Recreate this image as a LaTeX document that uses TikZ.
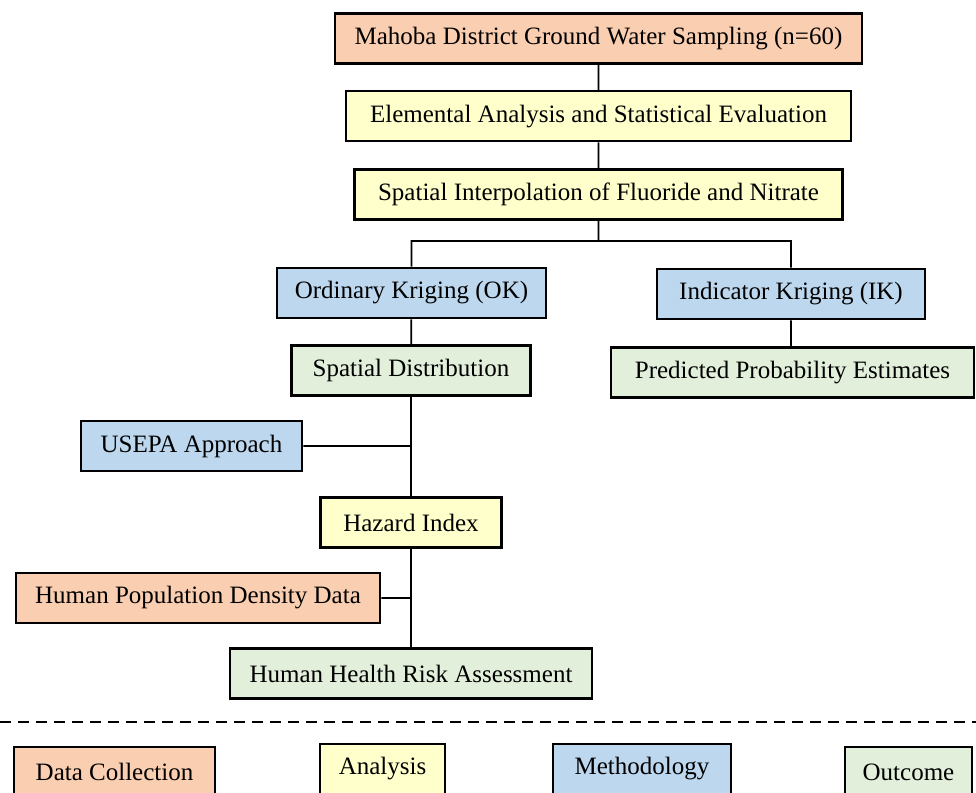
\documentclass[tikz,border=0pt]{standalone}
\usepackage{fontspec}
\setmainfont{Liberation Serif}
\usetikzlibrary{positioning}

\definecolor{datacol}{HTML}{FACEB0}
\definecolor{analysiscol}{HTML}{FFFFCC}
\definecolor{methodcol}{HTML}{BDD7EE}
\definecolor{outcomecol}{HTML}{E2EFDA}

\tikzset{
	box/.style={draw, line width=2.6pt, minimum height=50pt, inner sep=0pt,
		font=\fontsize{25}{30}\selectfont},
	link/.style={line width=1.8pt}
}

\begin{document}
\begin{tikzpicture}[x=1pt,y=-1pt]
		\useasboundingbox (0,0) rectangle (976,792);

		\node[box,
			fill = datacol,
			minimum width = 527pt
		] (sampling) at (598.5,38.5) {Mahoba District Ground Water Sampling (n=60)};

		\node[box,
			fill = analysiscol,
			below = 25pt of sampling,
			minimum width = 505pt
		] (elemental) {Elemental Analysis and Statistical Evaluation};

		\node[box,
			fill = analysiscol,
			below = 26pt of elemental,
			minimum width = 488pt
		] (interp) {Spatial Interpolation of Fluoride and Nitrate};

		\node[box,
			fill = methodcol,
			minimum width = 269pt
		] (ok) at (411.5,293) {Ordinary Kriging (OK)};

		\node[box,
			fill = methodcol,
			minimum width = 268pt
		] (ik) at (791,294) {Indicator Kriging (IK)};

		\node[box,
			fill = outcomecol,
			minimum width = 239pt
		] (dist) at (411,370.5) {Spatial Distribution};

		\node[box,
			fill = outcomecol,
			minimum width = 363pt
		] (prob) at (792.5,372.5) {Predicted Probability Estimates};

		\node[box,
			fill = methodcol,
			minimum width = 221pt
		] (usepa) at (191.5,446) {USEPA Approach};

		\node[box,
			fill = analysiscol,
			minimum width = 181pt
		] (hazard) at (411,522.5) {Hazard Index};

		\node[box,
			fill = datacol,
			minimum width = 364pt
		] (pop) at (198,598) {Human Population Density Data};

		\node[box,
			fill = outcomecol,
			minimum width = 362pt
		] (hhra) at (411,673.5) {Human Health Risk Assessment};

		% legend
		\node[box, fill = datacol, minimum width = 201pt] (legdata) at (114.5,772) {Data Collection};
		\node[box, fill = analysiscol, minimum width = 125pt] (leganalysis) at (382.5,769) {Analysis};
		\node[box, fill = methodcol, minimum width = 178pt] (legmethod) at (642,769) {Methodology};
		\node[box, fill = outcomecol, minimum width = 127pt] (legoutcome) at (908.5,772) {Outcome};

		\coordinate (split) at (interp.south |- 0,241);
		\coordinate (sepleft) at (0,722);
		\coordinate (sepright) at (976,722);

		\draw[link] (sampling) -- (elemental)
		(elemental) -- (interp)
		(interp.south) -- (split)
		(ok.north) |- (split) -| (ik.north)
		(ok) -- (dist)
		(ik.south) -- (ik.south |- prob.north)
		(dist) -- (hazard)
		(hazard) -- (hhra)
		(usepa.east) -- (usepa.east -| dist.south)
		(pop.east) -- (pop.east -| hazard.south);

		\draw[line width=2.2pt, dash pattern=on 11pt off 7pt] (sepleft) -- (sepright);

	\end{tikzpicture}
\end{document}
